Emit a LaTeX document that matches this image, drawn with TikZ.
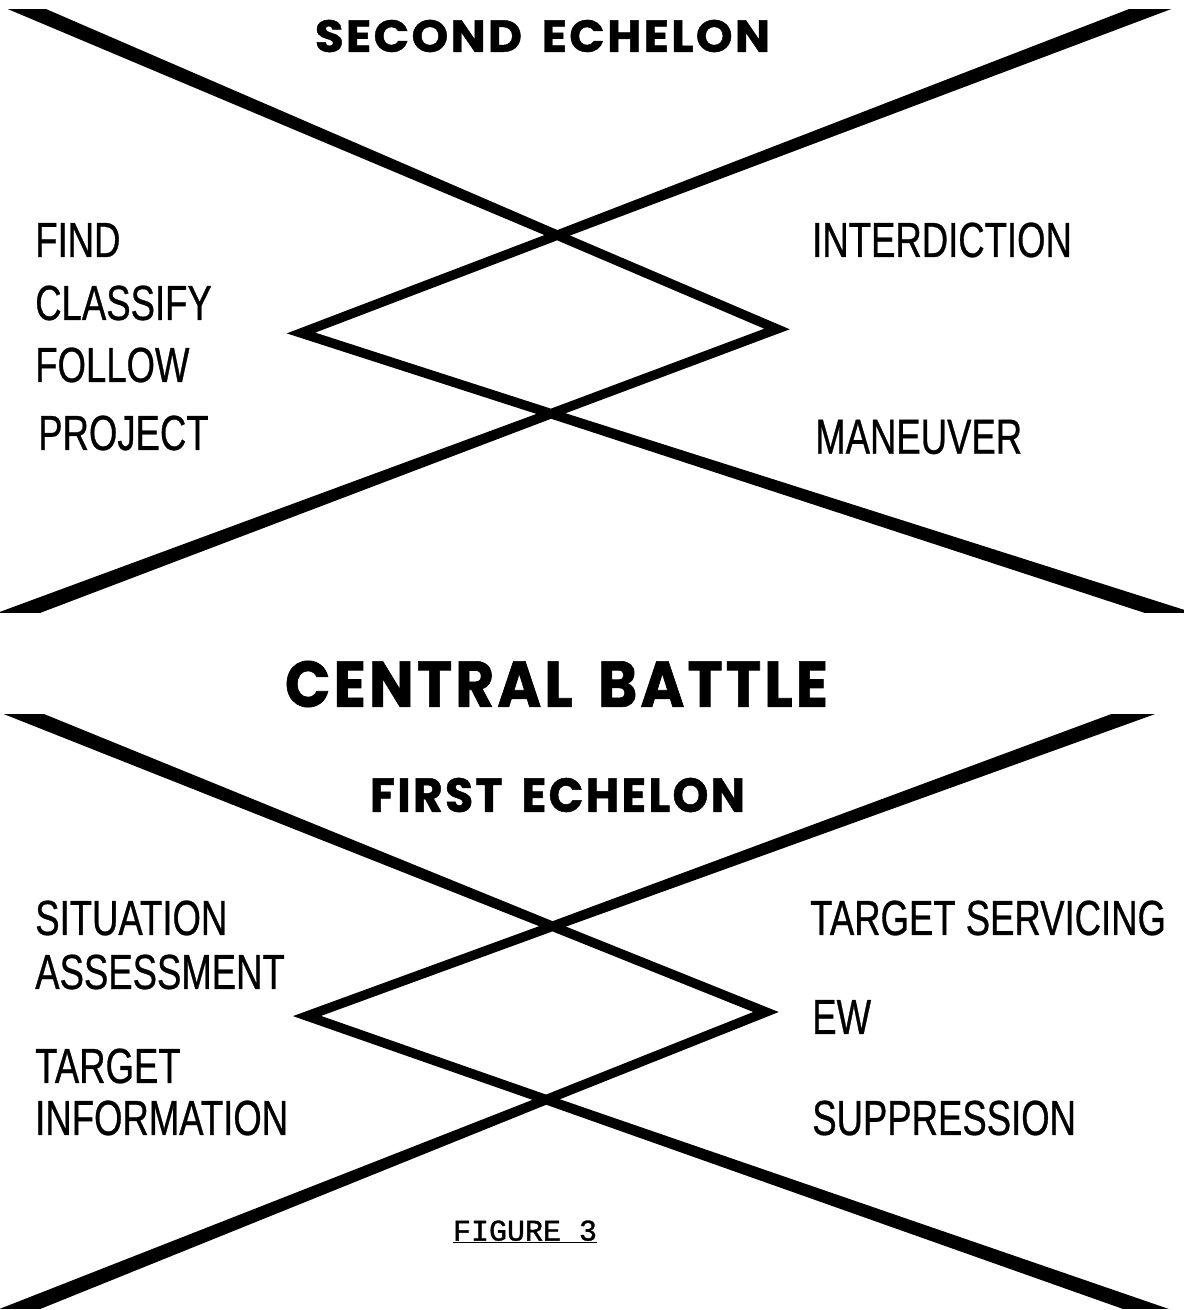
\documentclass[tikz,border=0pt]{standalone}
\usepackage{fontspec}
\usepackage{graphicx}
\usetikzlibrary{calc}
\newfontfamily\labfont[FakeStretch=0.74,FakeBold=0.6]{Liberation Sans}
\newfontfamily\headfont[LetterSpace=5,WordSpace=1.6,FakeBold=1]{Poppins}
\newfontfamily\typefont[FakeBold=1.2]{Liberation Mono}
\newcommand\drawarm[2]{%
  \path ($(#1)!1.08!(#2)$) coordinate (ext);
  \fill[black] ($(#1)!3.6pt!90:(#2)$) -- ($(ext)!5.8pt!-90:(#1)$) -- ($(ext)!5.8pt!90:(#1)$) -- ($(#1)!3.6pt!-90:(#2)$) -- cycle;}
\tikzset{
  lab/.style={anchor=west, inner sep=0pt, font=\labfont\fontsize{37}{40}\selectfont},
  head/.style={inner sep=0pt},
  diam/.style={draw=black, line width=7.1pt, line join=miter, miter limit=10},
}
\begin{document}
\begin{tikzpicture}[x=0.75pt, y=-0.75pt]
\useasboundingbox (0,0) rectangle (1184,1310);
\fill[white] (0,0) rectangle (1184,1310);
% ---------- top figure ----------
\coordinate (tE1) at (27,9);
\coordinate (tE2) at (1150,9);
\coordinate (tE3) at (24,611);
\coordinate (tE4) at (1163,611);
\coordinate (tL) at (301,333);
\coordinate (tR) at (777,329);
\coordinate (tCt) at (intersection of tE1--tR and tE2--tL);
\coordinate (tCb) at (intersection of tL--tE4 and tR--tE3);
\begin{scope}
  \clip (0,9) rectangle (1184,612);
  \drawarm{tCt}{tE1}
  \drawarm{tCt}{tE2}
  \drawarm{tCb}{tE3}
  \drawarm{tCb}{tE4}
\end{scope}
\draw[diam] (tL) -- (tCt) -- (tR) -- (tCb) -- cycle;
% ---------- bottom figure ----------
\coordinate (bE1) at (24,714);
\coordinate (bE2) at (1133,714);
\coordinate (bE3) at (25,1307);
\coordinate (bE4) at (1140,1307);
\coordinate (bL) at (307,1016);
\coordinate (bR) at (766,1012);
\coordinate (bCt) at (intersection of bE1--bR and bE2--bL);
\coordinate (bCb) at (intersection of bL--bE4 and bR--bE3);
\begin{scope}
  \clip (0,714) rectangle (1184,1308);
  \drawarm{bCt}{bE1}
  \drawarm{bCt}{bE2}
  \drawarm{bCb}{bE3}
  \drawarm{bCb}{bE4}
\end{scope}
\draw[diam] (bL) -- (bCt) -- (bR) -- (bCb) -- cycle;
% ---------- headings ----------
\node[head] (second) at (542.5,36) {\resizebox{341.25pt}{24pt}{\headfont\bfseries SECOND ECHELON}};
\node[head] (central) at (556.5,684) {\resizebox{407.25pt}{34.5pt}{\headfont\bfseries CENTRAL BATTLE}};
\node[head] (first) at (557.5,795) {\resizebox{281.25pt}{25.5pt}{\headfont\bfseries FIRST ECHELON}};
% ---------- labels ----------
\node[lab] (find) at (35,240) {FIND};
\node[lab] (classify) at (35,303) {CLASSIFY};
\node[lab] (follow) at (35,365) {FOLLOW};
\node[lab] (project) at (38,433) {PROJECT};
\node[lab] (interd) at (812,240) {INTERDICTION};
\node[lab] (maneuver) at (815,437) {MANEUVER};
\node[lab] (situation) at (35,918) {SITUATION};
\node[lab] (assess) at (35,972) {ASSESSMENT};
\node[lab] (target) at (35,1066) {TARGET};
\node[lab] (info) at (35,1118) {INFORMATION};
\node[lab] (tserv) at (810,918) {TARGET SERVICING};
\node[lab] (ew) at (812,1017) {EW};
\node[lab] (suppr) at (812,1118) {SUPPRESSION};
% ---------- caption ----------
\node[inner sep=0pt, font=\typefont\fontsize{22.5}{24}\selectfont] (fig) at (525,1232) {\underline{FIGURE 3}};
\end{tikzpicture}
\end{document}
